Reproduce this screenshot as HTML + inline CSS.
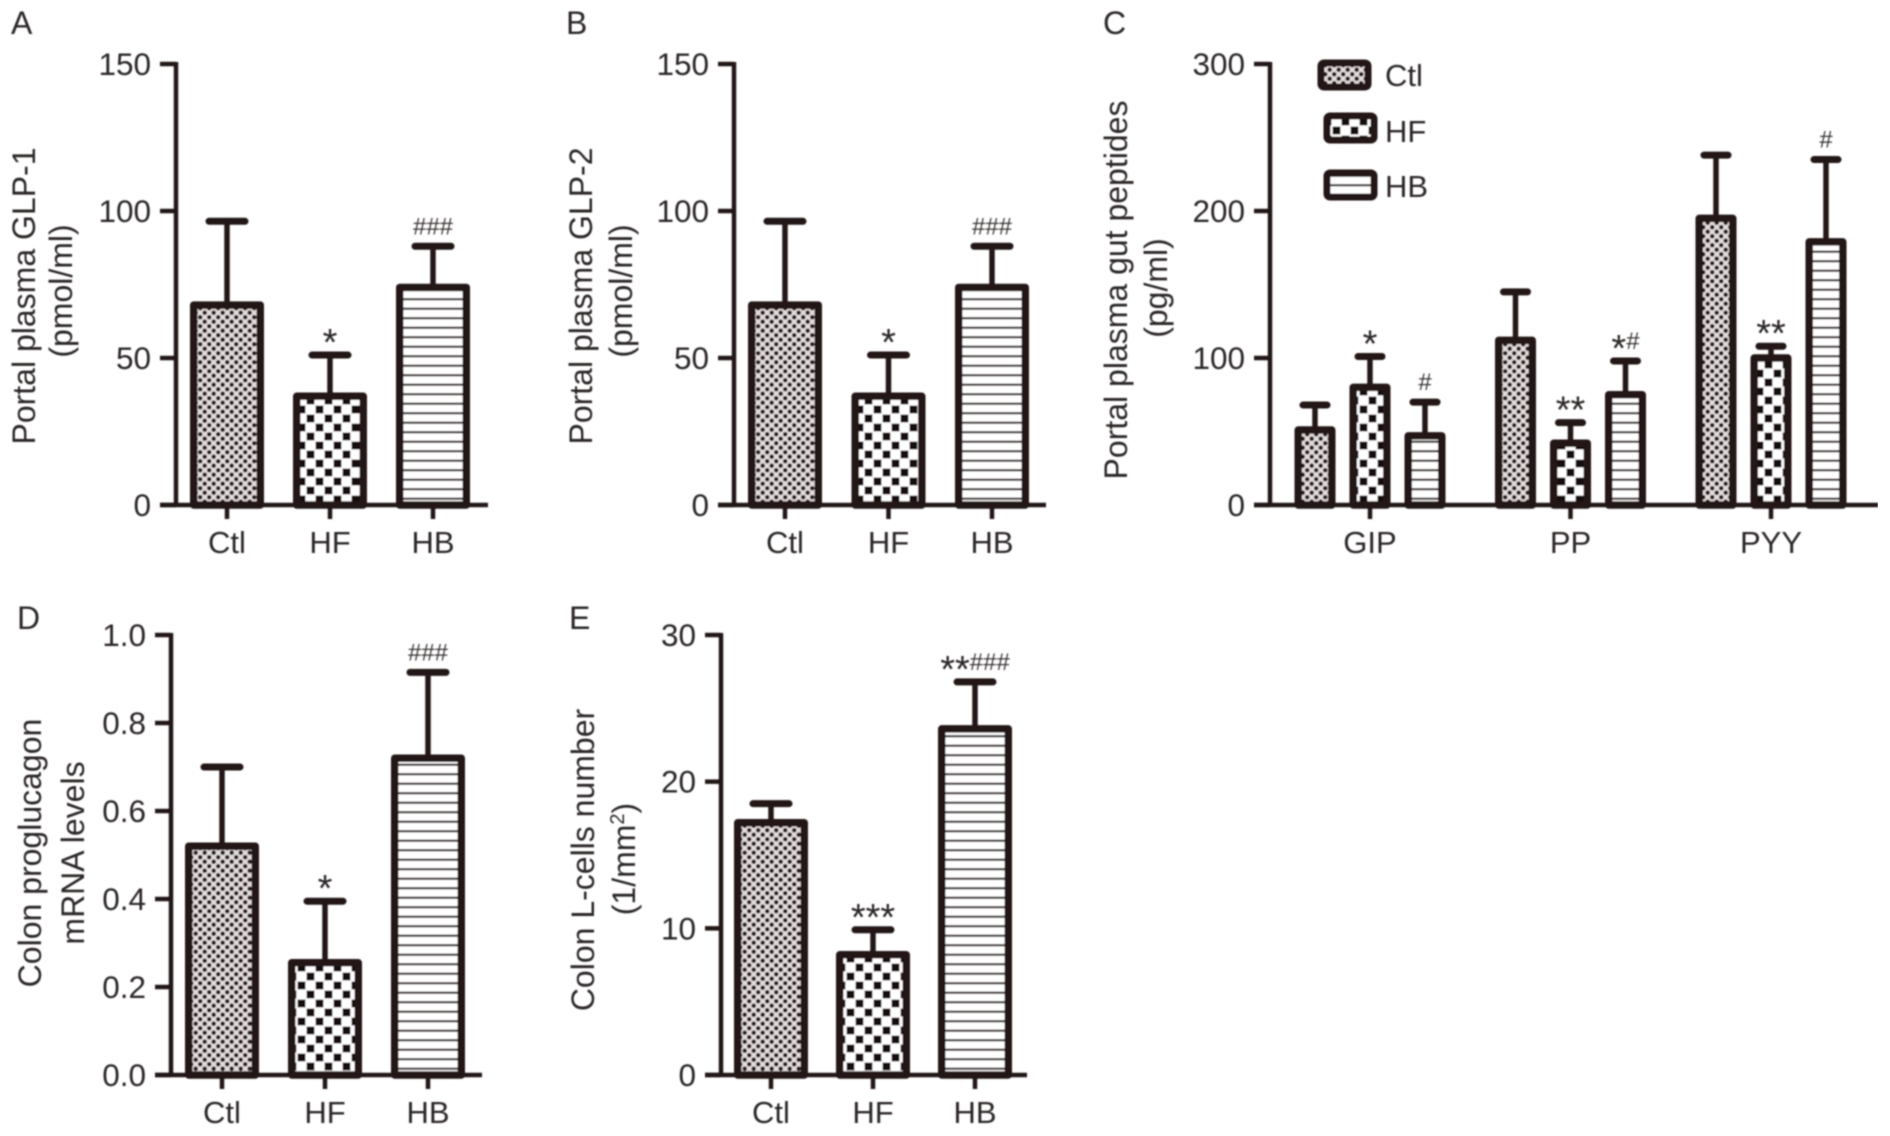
<!DOCTYPE html>
<html lang="en">
<head>
<meta charset="utf-8">
<title>Portal plasma and colon measurements</title>
<style>
html,body{margin:0;padding:0;background:#fff;}
svg{display:block;}
text{font-family:"Liberation Sans",Arial,sans-serif;fill:#2b2626;}
.letter{font-size:32px;}
.title{font-size:32px;text-anchor:middle;}
.legend-text{font-size:31px;}
</style>
</head>
<body>
<svg id="figure" xmlns="http://www.w3.org/2000/svg" width="1890" height="1136" viewBox="0 0 1890 1136">
<defs>
<pattern id="pat-ctl" patternUnits="userSpaceOnUse" width="9" height="9">
<rect width="9" height="9" fill="#e2dcdc"/>
<circle cx="2.2" cy="2.2" r="2.3" fill="#231815"/>
<circle cx="6.7" cy="6.7" r="2.3" fill="#231815"/>
</pattern>
<pattern id="pat-hf" patternUnits="userSpaceOnUse" width="18" height="18">
<rect width="18" height="18" fill="#fff"/>
<rect x="0.5" y="0.5" width="8" height="8" fill="#17100e"/>
<rect x="9.5" y="9.5" width="8" height="8" fill="#17100e"/>
</pattern>
<pattern id="pat-hb" patternUnits="userSpaceOnUse" width="10" height="9.5">
<rect width="10" height="9.5" fill="#fff"/>
<rect y="3.5" width="10" height="2.4" fill="#4a4040"/>
</pattern>
<filter id="soft" x="0" y="0" width="100%" height="100%"><feGaussianBlur stdDeviation="0.7"/></filter>
</defs>
<rect width="1890" height="1136" fill="#fff"/>
<g id="root" filter="url(#soft)">
<g>
<text class="letter" x="11" y="34">A</text>
<text class="title" transform="translate(35 296) rotate(-90)">Portal plasma GLP-1</text>
<text class="title" transform="translate(72 291) rotate(-90)">(pmol/ml)</text>
</g>
<g>
<text class="letter" x="566" y="34">B</text>
<text class="title" transform="translate(592 296) rotate(-90)">Portal plasma GLP-2</text>
<text class="title" transform="translate(632 291) rotate(-90)">(pmol/ml)</text>
</g>
<g>
<text class="letter" x="1103" y="34">C</text>
<text class="title" transform="translate(1127 290) rotate(-90)">Portal plasma gut peptides</text>
<text class="title" transform="translate(1167 288) rotate(-90)">(pg/ml)</text>
</g>
<g>
<text class="letter" x="17" y="629">D</text>
<text class="title" transform="translate(41 853) rotate(-90)">Colon proglucagon</text>
<text class="title" transform="translate(84 853) rotate(-90)">mRNA levels</text>
</g>
<g>
<text class="letter" x="569" y="629">E</text>
<text class="title" transform="translate(594 860) rotate(-90)">Colon L-cells number</text>
<text class="title" transform="translate(635 859) rotate(-90)">(1/mm<tspan font-size="20" dy="-11">2</tspan><tspan dy="11">)</tspan></text>
</g>
<g>
<g>
<rect x="1321" y="63" width="47" height="24" rx="3" fill="url(#pat-ctl)" stroke="#231815" stroke-width="7"/>
<text class="legend-text" x="1385" y="86">Ctl</text>
</g>
<g>
<rect x="1327" y="116" width="47" height="24" rx="3" fill="url(#pat-hf)" stroke="#231815" stroke-width="7"/>
<text class="legend-text" x="1385" y="142">HF</text>
</g>
<g>
<rect x="1327" y="173" width="47" height="24" rx="3" fill="url(#pat-hb)" stroke="#231815" stroke-width="7"/>
<text class="legend-text" x="1385" y="197">HB</text>
</g>
</g>
<g id="charts"></g>
</g>
</svg>
<script>
// Panel A
const panelACategories = ['Ctl', 'HF', 'HB'];
const panelAMeans = [68, 37, 74];
const panelAUpper = [96.5, 51, 88];
const panelAMarks = ['', '*', '###'];
const panelATicks = ['0', '50', '100', '150'];
// Panel B
const panelBCategories = ['Ctl', 'HF', 'HB'];
const panelBMeans = [68, 37, 74];
const panelBUpper = [96.5, 51, 88];
const panelBMarks = ['', '*', '###'];
const panelBTicks = ['0', '50', '100', '150'];
// Panel C
const panelCGroups = ['GIP', 'PP', 'PYY'];
const panelCCtlMeans = [51, 112, 195];
const panelCCtlUpper = [68, 145, 238];
const panelCHfMeans = [80, 42, 100];
const panelCHfUpper = [101, 56, 108];
const panelCHfMarks = ['*', '**', '**'];
const panelCHbMeans = [47, 75, 179];
const panelCHbUpper = [70, 98, 235];
const panelCHbMarks = ['#', '*#', '#'];
const panelCTicks = ['0', '100', '200', '300'];
// Panel D
const panelDCategories = ['Ctl', 'HF', 'HB'];
const panelDMeans = [0.52, 0.255, 0.72];
const panelDUpper = [0.70, 0.395, 0.915];
const panelDMarks = ['', '*', '###'];
const panelDTicks = ['0.0', '0.2', '0.4', '0.6', '0.8', '1.0'];
// Panel E
const panelECategories = ['Ctl', 'HF', 'HB'];
const panelEMeans = [17.2, 8.2, 23.6];
const panelEUpper = [18.5, 9.9, 26.8];
const panelEMarks = ['', '***', '**###'];
const panelETicks = ['0', '10', '20', '30'];

const SVG_NS = 'http://www.w3.org/2000/svg';
const INK = '#231815';
const BORDER = 7.5;
const chartsRoot = document.getElementById('charts');

function yScaleFor(frame, ticks) {
  const maxV = parseFloat(ticks[ticks.length - 1]);
  return function (v) { return frame.bottom - (v / maxV) * (frame.bottom - frame.top); };
}

function line(parent, x1, y1, x2, y2, w, name) {
  const el = document.createElementNS(SVG_NS, 'line');
  el.setAttribute('x1', x1);
  el.setAttribute('y1', y1);
  el.setAttribute('x2', x2);
  el.setAttribute('y2', y2);
  el.setAttribute('stroke', INK);
  el.setAttribute('stroke-width', w);
  
  
  parent.appendChild(el);
  return el;
}

function label(parent, x, y, str, size, anchor, name) {
  const el = document.createElementNS(SVG_NS, 'text');
  el.setAttribute('x', x);
  el.setAttribute('y', y);
  el.setAttribute('font-size', size);
  el.setAttribute('text-anchor', anchor);
  
  
  el.textContent = str;
  parent.appendChild(el);
  return el;
}

function drawAxes(group, frame, ticks, yScale) {
  line(group, frame.axisX, frame.top - 2, frame.axisX, frame.bottom + 2, 4.5, 'y-axis');
  line(group, frame.axisX - 16, frame.bottom, frame.xEnd, frame.bottom, 4.5, 'x-axis');
  ticks.forEach(function (t) {
    const y = yScale(parseFloat(t));
    line(group, frame.axisX - 16, y, frame.axisX, y, 4.5, 'y-tick');
    label(group, frame.axisX - 25, y + 11, t, 31.5, 'end', 'y-tick-label');
  });
}

function drawBar(group, cx, w, mean, upper, mark, pattern, yScale, frame, compact) {
  const top = yScale(mean);
  const capY = yScale(upper);
  const capHalf = compact ? 12 : 18;
  line(group, cx, capY, cx, top, 5.5, 'error-bar-stem');
  const cap = line(group, cx - capHalf, capY, cx + capHalf, capY, 7, 'error-bar-cap');
  cap.setAttribute('stroke-linecap', 'round');
  const rect = document.createElementNS(SVG_NS, 'rect');
  rect.setAttribute('x', cx - w / 2 + BORDER / 2);
  rect.setAttribute('y', top);
  rect.setAttribute('width', w - BORDER);
  rect.setAttribute('height', frame.bottom - top);
  rect.setAttribute('fill', 'url(#' + pattern + ')');
  rect.setAttribute('stroke', INK);
  rect.setAttribute('stroke-width', BORDER);
  rect.setAttribute('stroke-linejoin', 'round');
  
  
  group.appendChild(rect);
  if (mark) {
    drawMark(group, cx, capY, mark);
  }
}

function drawMark(group, cx, capY, mark) {
  const el = label(group, cx, capY, '', 38, 'middle', 'significance-mark');
  const stars = mark.replace(/#/g, '');
  const hashes = mark.replace(/\*/g, '');
  if (stars) {
    const s = document.createElementNS(SVG_NS, 'tspan');
    s.setAttribute('font-size', 38);
    s.textContent = stars;
    el.appendChild(s);
  }
  if (hashes) {
    const h = document.createElementNS(SVG_NS, 'tspan');
    h.setAttribute('font-size', 24);
    h.setAttribute('dy', -12);
    h.setAttribute('fill', '#3a3434');
    h.textContent = hashes;
    el.appendChild(h);
  }
}

function drawSimplePanel(name, frame, categories, means, upper, marks, ticks) {
  const g = document.createElementNS(SVG_NS, 'g');
  
  
  chartsRoot.appendChild(g);
  const yScale = yScaleFor(frame, ticks);
  const patterns = ['pat-ctl', 'pat-hf', 'pat-hb'];
  categories.forEach(function (c, i) {
    const cx = frame.first + frame.step * i;
    drawBar(g, cx, frame.barW, means[i], upper[i], marks[i], patterns[i], yScale, frame, false);
    line(g, cx, frame.bottom, cx, frame.bottom + 14, 4.5, 'x-tick');
    label(g, cx, frame.bottom + frame.labelGap, c, 31, 'middle', 'x-tick-label');
  });
  drawAxes(g, frame, ticks, yScale);
}

function drawGroupedPanel() {
  const frame = { axisX: 1270, xEnd: 1878, top: 64, bottom: 505, first: 1370, step: 200.5, barW: 41, offset: 55, labelGap: 48 };
  const g = document.createElementNS(SVG_NS, 'g');
  
  
  chartsRoot.appendChild(g);
  const yScale = yScaleFor(frame, panelCTicks);
  panelCGroups.forEach(function (c, i) {
    const cx = frame.first + frame.step * i;
    drawBar(g, cx - frame.offset, frame.barW, panelCCtlMeans[i], panelCCtlUpper[i], '', 'pat-ctl', yScale, frame, true);
    drawBar(g, cx, frame.barW, panelCHfMeans[i], panelCHfUpper[i], panelCHfMarks[i], 'pat-hf', yScale, frame, true);
    drawBar(g, cx + frame.offset, frame.barW, panelCHbMeans[i], panelCHbUpper[i], panelCHbMarks[i], 'pat-hb', yScale, frame, true);
    line(g, cx, frame.bottom, cx, frame.bottom + 14, 4.5, 'x-tick');
    label(g, cx, frame.bottom + frame.labelGap, c, 31, 'middle', 'x-tick-label');
  });
  drawAxes(g, frame, panelCTicks, yScale);
}

drawSimplePanel('panel-a', { axisX: 176, xEnd: 488, top: 64, bottom: 505, first: 227, step: 103, barW: 74, labelGap: 48 }, panelACategories, panelAMeans, panelAUpper, panelAMarks, panelATicks);
drawSimplePanel('panel-b', { axisX: 734, xEnd: 1046, top: 64, bottom: 505, first: 785, step: 103.5, barW: 74, labelGap: 48 }, panelBCategories, panelBMeans, panelBUpper, panelBMarks, panelBTicks);
drawGroupedPanel();
drawSimplePanel('panel-d', { axisX: 171, xEnd: 482, top: 635, bottom: 1075, first: 222, step: 103, barW: 74, labelGap: 48 }, panelDCategories, panelDMeans, panelDUpper, panelDMarks, panelDTicks);
drawSimplePanel('panel-e', { axisX: 721, xEnd: 1027, top: 635, bottom: 1075, first: 771, step: 102, barW: 74, labelGap: 48 }, panelECategories, panelEMeans, panelEUpper, panelEMarks, panelETicks);
</script>
</body>
</html>
